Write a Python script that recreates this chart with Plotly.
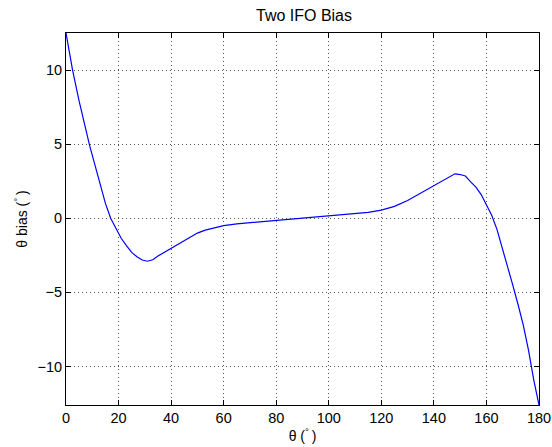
import plotly.graph_objects as go

theta = [0, 1, 2.5, 5, 7, 9, 11, 13, 15, 17, 19, 21, 23, 25, 27, 29, 31, 33, 35, 38,
         41, 44, 47, 50, 53, 56, 60, 65, 70, 75, 80, 85, 90, 95, 100, 105, 110, 115,
         120, 125, 130, 135, 140, 143, 146, 148, 150, 152, 154, 156, 158, 160, 162,
         164, 166, 168, 170, 172, 174, 176, 178, 180]
bias = [12.5, 11.4, 10.0, 7.9, 6.3, 4.9, 3.6, 2.3, 1.0, 0.0, -0.65, -1.35, -1.85,
        -2.3, -2.6, -2.82, -2.9, -2.8, -2.55, -2.25, -1.95, -1.6, -1.3, -1.0, -0.8,
        -0.65, -0.5, -0.38, -0.3, -0.22, -0.14, -0.06, 0.02, 0.09, 0.15, 0.21, 0.29,
        0.4, 0.55, 0.8, 1.2, 1.7, 2.2, 2.55, 2.85, 3.0, 2.95, 2.85, 2.45, 2.1, 1.6,
        0.95, 0.2, -0.75, -2.0, -3.1, -4.5, -5.8, -7.2, -8.9, -10.9, -12.6]

x_ticks = [0, 20, 40, 60, 80, 100, 120, 140, 160, 180]
y_ticks = [-10, -5, 0, 5, 10]

FAMILY = "Liberation Sans, Arial, sans-serif"
tick_font = dict(family=FAMILY, size=14.5, color="black")
label_font = dict(family=FAMILY, size=14, color="black")
title_font = dict(family=FAMILY, size=16, color="black")

fig = go.Figure()
fig.add_trace(go.Scatter(x=theta, y=bias, mode="lines",
                         line=dict(color="#0000ff", width=1.2), showlegend=False))

axis_common = dict(
    showline=True, linecolor="black", linewidth=1, mirror="allticks",
    ticks="inside", ticklen=5, tickcolor="black",
    showgrid=True, gridcolor="#555555", gridwidth=1, griddash="1px,3px",
    zeroline=False, tickfont=tick_font, automargin=False,
    ticklabeloverflow="allow",
)

W, H = 552, 447
fig.update_layout(
    width=W, height=H,
    margin=dict(l=66, r=13, t=33, b=42),
    paper_bgcolor="white", plot_bgcolor="white",
    font=label_font,
    title=dict(text="Two IFO Bias", x=304 / W, xanchor="center",
               y=1 - 15 / H, yanchor="middle", font=title_font),
    xaxis=dict(range=[0, 180], tickvals=x_ticks,
               title=dict(text="θ (<sup>°</sup>\u2009)", standoff=5, font=label_font),
               **axis_common),
    yaxis=dict(range=[-12.6, 12.5], tickvals=y_ticks,
               title=dict(text="θ bias (<sup>°</sup>\u2009)", standoff=6, font=label_font),
               **axis_common),
)

fig.write_html(
    "out.html",
    config={"displayModeBar": False},
    post_script="document.body.style.margin='0';document.body.style.overflow='hidden';",
)
